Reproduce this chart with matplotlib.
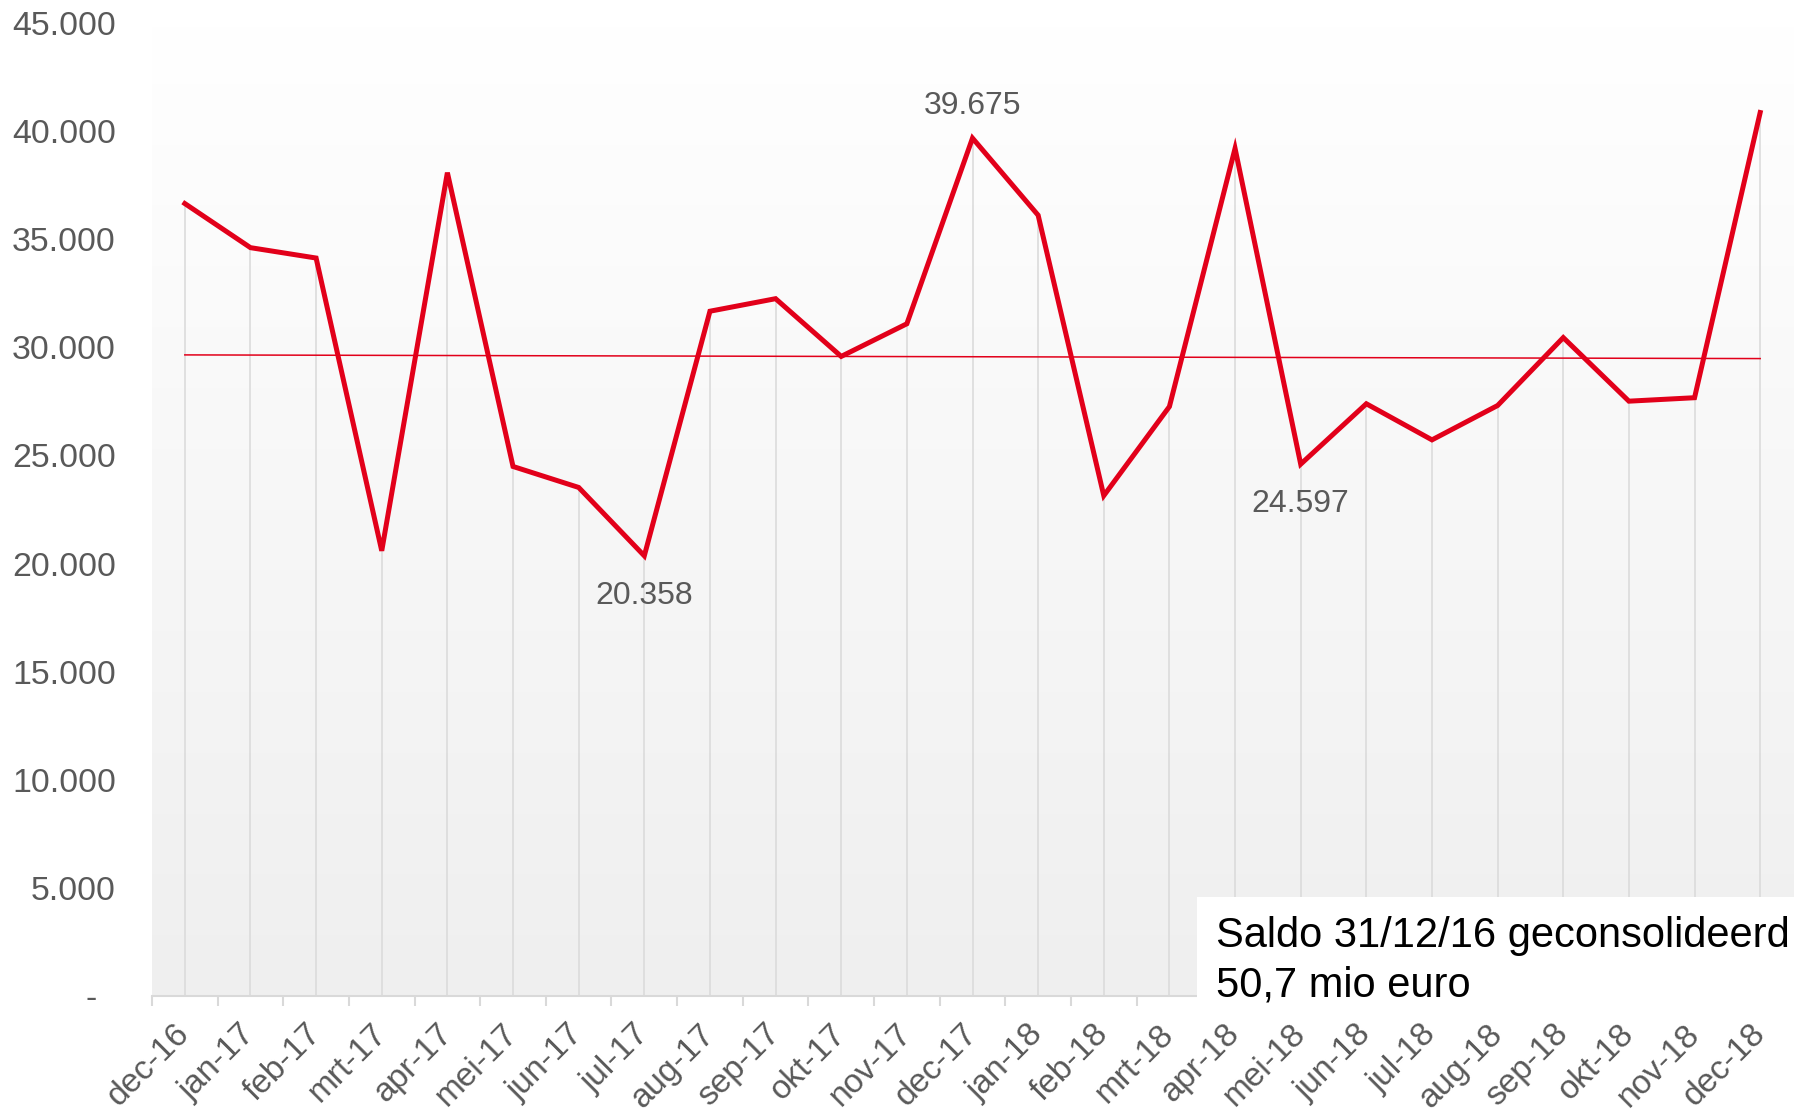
import numpy as np
import matplotlib
matplotlib.use("Agg")
import matplotlib.pyplot as plt
from matplotlib.colors import LinearSegmentedColormap
from matplotlib.patches import Rectangle

plt.rcParams["font.family"] = ["Liberation Sans", "DejaVu Sans"]

maanden = ["dec-16", "jan-17", "feb-17", "mrt-17", "apr-17", "mei-17", "jun-17",
           "jul-17", "aug-17", "sep-17", "okt-17", "nov-17", "dec-17", "jan-18",
           "feb-18", "mrt-18", "apr-18", "mei-18", "jun-18", "jul-18", "aug-18",
           "sep-18", "okt-18", "nov-18", "dec-18"]
saldo = [36650, 34610, 34130, 20590, 38080, 24490, 23520, 20358, 31670, 32250,
         29580, 31090, 39675, 36110, 23140, 27260, 39200, 24597, 27390, 25720,
         27310, 30450, 27510, 27670, 40860]
# thin reference line, start and end value
referentie = [29650, 29480]
# labelled points: (index, text, above?)
labels = [(7, "20.358", False), (12, "39.675", True), (17, "24.597", False)]
y_ticks = [0, 5000, 10000, 15000, 20000, 25000, 30000, 35000, 40000, 45000]
y_ticklabels = ["-  ", "5.000", "10.000", "15.000", "20.000", "25.000",
                "30.000", "35.000", "40.000", "45.000"]

red = "#e2001a"
grey_txt = "#595959"
grey_line = "#d9d9d9"

W, H = 1811, 1111
fig = plt.figure(figsize=(W / 100, H / 100), dpi=100)
ax = fig.add_axes([152 / W, 1 - 996 / H, (1793 - 152) / W, (996 - 23) / H])

x = np.arange(len(maanden))
ax.set_xlim(-0.5, len(maanden) - 0.5)
ax.set_ylim(0, 45000)

# gradient plot area
cmap = LinearSegmentedColormap.from_list("bg", ["#efefef", "#ffffff"])
ax.imshow(np.linspace(0, 1, 256)[:, None], extent=[-0.5, len(maanden) - 0.5, 0, 45000],
          aspect="auto", cmap=cmap, origin="lower", zorder=0)

# drop lines
ax.vlines(x, 0, saldo, color=grey_line, lw=1.1, zorder=1)
ax.plot([x[0], x[-1]], referentie, color=red, lw=1.1, zorder=2)
ax.plot(x, saldo, color=red, lw=3.6, zorder=3, solid_joinstyle="miter")

for i, txt, above in labels:
    ax.annotate(txt, (x[i], saldo[i]), xytext=(0, 23 if above else -29),
                textcoords="offset points", ha="center", va="center",
                fontsize=23, color=grey_txt, zorder=4)

for s in ["top", "right", "left"]:
    ax.spines[s].set_visible(False)
ax.spines["bottom"].set_color(grey_line)
ax.spines["bottom"].set_linewidth(1.5)
ax.spines["bottom"].set_zorder(2)

ax.set_yticks(y_ticks)
ax.set_yticklabels(y_ticklabels, fontsize=24.4, color=grey_txt)
ax.tick_params(axis="y", length=0, pad=26)

ax.set_xticks(x)
ax.set_xticklabels(maanden, fontsize=24, color=grey_txt, rotation=45,
                   ha="right", va="center", rotation_mode="anchor")
ax.set_xticks(np.arange(len(maanden) + 1) - 0.5, minor=True)
ax.tick_params(axis="x", which="major", length=0, pad=24)
ax.tick_params(axis="x", which="minor", length=7, width=1.5, color=grey_line)

# white info box
fig.patches.append(Rectangle((1197 / W, 1 - 1008 / H), (1800 - 1197) / W, (1008 - 897) / H,
                             transform=fig.transFigure, facecolor="white",
                             edgecolor="none", zorder=5))
fig.text(1216 / W, 1 - 947 / H, "Saldo 31/12/16 geconsolideerd", fontsize=30,
         color="black", va="baseline", zorder=6)
fig.text(1216 / W, 1 - 997 / H, "50,7 mio euro", fontsize=30,
         color="black", va="baseline", zorder=6)

fig.savefig("out.png", dpi=100)
